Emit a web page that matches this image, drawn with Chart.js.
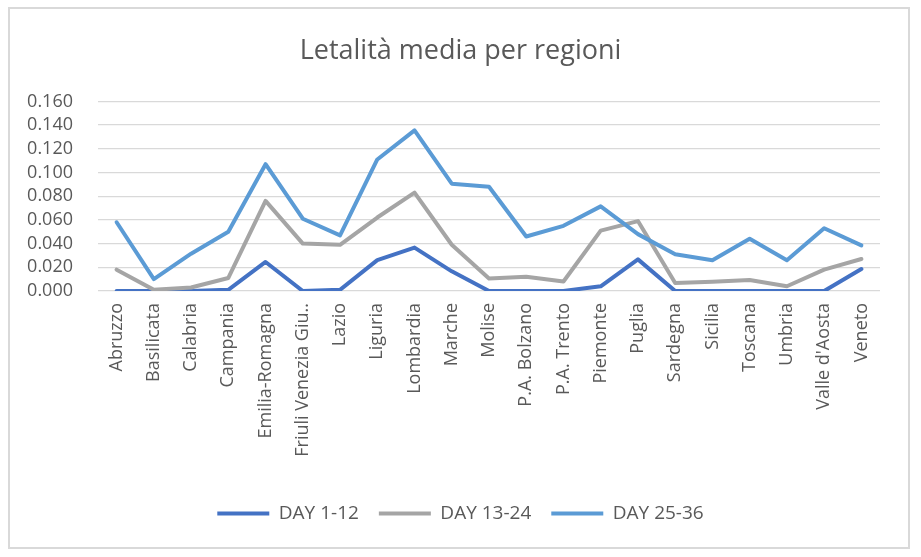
<!DOCTYPE html>
<html lang="it">
<head>
  <meta charset="UTF-8">
  <title>Letalità media per regioni</title>
  <script src="https://cdn.jsdelivr.net/npm/chart.js"></script>
  <style>
    html, body {
      margin: 0;
      padding: 0;
      background: #ffffff;
      overflow: hidden;
    }
    #wrap {
      position: relative;
      width: 921px;
      height: 557px;
    }
    /* cornice grigia attorno al grafico */
    #frame {
      position: absolute;
      left: 8px;
      top: 7px;
      width: 898px;
      height: 538px;
      border: 2px solid #d9d9d9;
      pointer-events: none;
    }
    canvas {
      position: absolute;
      left: 0;
      top: 0;
    }
  </style>
</head>
<body>
  <div id="wrap">
    <canvas id="letalitaChart" width="921" height="557"></canvas>
    <div id="frame"></div>
  </div>

  <script>
    const regioni = ['Abruzzo', 'Basilicata', 'Calabria', 'Campania', 'Emilia-Romagna',
      'Friuli Venezia Giu..', 'Lazio', 'Liguria', 'Lombardia', 'Marche', 'Molise',
      'P.A. Bolzano', 'P.A. Trento', 'Piemonte', 'Puglia', 'Sardegna', 'Sicilia',
      'Toscana', 'Umbria', "Valle d'Aosta", 'Veneto'];

    const day1_12 = [0, 0, 0, 0.001, 0.0245, 0, 0.001, 0.026, 0.0366, 0.0166, 0,
      0, 0, 0.004, 0.0267, 0, 0, 0, 0, 0, 0.0185];

    const day13_24 = [0.018, 0.001, 0.003, 0.011, 0.076, 0.040, 0.039, 0.062, 0.083, 0.039, 0.0105,
      0.012, 0.008, 0.051, 0.059, 0.0067, 0.0078, 0.0092, 0.004, 0.018, 0.027];

    const day25_36 = [0.058, 0.010, 0.0315, 0.050, 0.107, 0.061, 0.047, 0.111, 0.1355, 0.0906, 0.088,
      0.046, 0.055, 0.0714, 0.048, 0.031, 0.026, 0.044, 0.026, 0.053, 0.0385];

    const yTicks = [0, 0.02, 0.04, 0.06, 0.08, 0.10, 0.12, 0.14, 0.16];

    const testo = '#595959';
    const griglia = '#d9d9d9';
    const font = "'Open Sans', sans-serif";

    function serie(label, data, colore, ordine) {
      return {
        label: label,
        data: data,
        borderColor: colore,
        backgroundColor: colore,
        borderWidth: 4,
        borderJoinStyle: 'round',
        borderCapStyle: 'round',
        pointRadius: 0,
        pointHoverRadius: 0,
        pointStyle: 'line',
        tension: 0,
        fill: false,
        order: ordine
      };
    }

    let ctx = document.getElementById('letalitaChart').getContext('2d');
    let chart = new Chart(ctx, {
      type: 'line',
      data: {
        labels: regioni,
        datasets: [
          serie('DAY 1-12', day1_12, '#4472C4', 3),
          serie('DAY 13-24', day13_24, '#A5A5A5', 2),
          serie('DAY 25-36', day25_36, '#5B9BD5', 1)
        ]
      },
      options: {
        responsive: false,
        animation: false,
        devicePixelRatio: 1,
        layout: {
          padding: { left: 20, right: 20, top: 16, bottom: 24 }
        },
        plugins: {
          title: {
            display: true,
            text: 'Letalità media per regioni',
            color: testo,
            font: { family: font, size: 27, weight: 'normal' },
            padding: { top: 19, bottom: 34 }
          },
          legend: {
            position: 'bottom',
            labels: {
              color: testo,
              font: { family: font, size: 19 },
              usePointStyle: true,
              pointStyle: 'line',
              pointStyleWidth: 52,
              padding: 20,
              sort: (a, b) => a.datasetIndex - b.datasetIndex
            }
          },
          tooltip: { enabled: false }
        },
        scales: {
          x: {
            offset: true,
            grid: { display: false, drawTicks: false },
            border: { display: false },
            ticks: {
              color: testo,
              font: { family: font, size: 18 },
              minRotation: 90,
              maxRotation: 90,
              autoSkip: false,
              padding: 12
            },
            afterFit: function(scale) { scale.height = 193; }
          },
          y: {
            min: 0,
            max: 0.16,
            afterBuildTicks: function(scale) {
              scale.ticks = yTicks.map(v => ({ value: v }));
            },
            grid: { color: griglia, lineWidth: 1.3, drawTicks: false },
            border: { display: false },
            ticks: {
              color: testo,
              font: { family: font, size: 18 },
              padding: 25,
              autoSkip: false,
              callback: function(value) {
                return Number(value).toFixed(3);
              }
            },
            afterFit: function(scale) { scale.width = 78; }
          },
          // asse vuoto a destra: solo spazio, per centrare titolo e legenda
          vuoto: {
            type: 'linear',
            position: 'right',
            display: true,
            grid: { display: false, drawTicks: false },
            border: { display: false },
            ticks: { display: false },
            afterFit: function(scale) { scale.width = 21; }
          }
        }
      }
    });
  </script>
</body>
</html>
